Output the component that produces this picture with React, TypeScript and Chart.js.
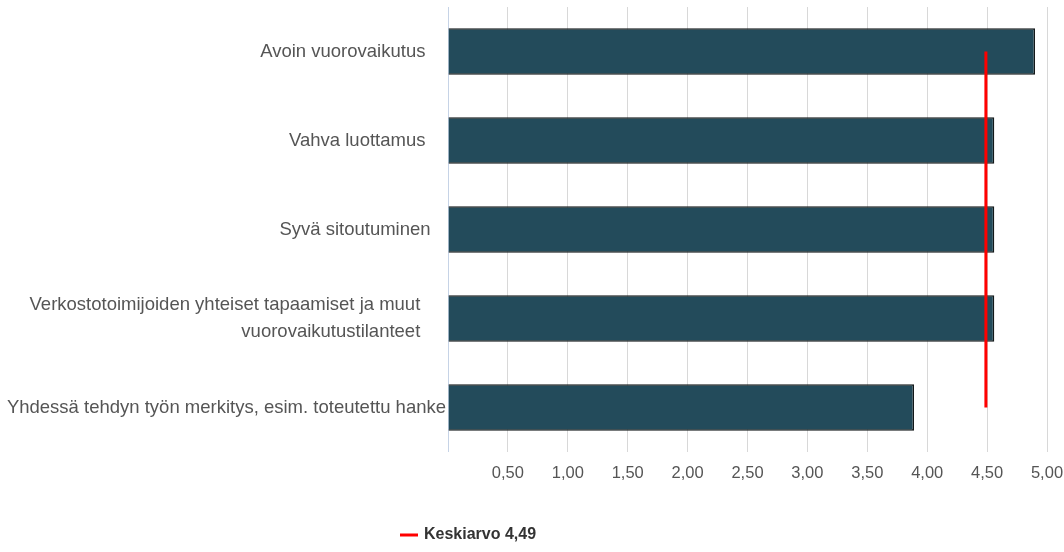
import React, { useEffect, useRef } from "react";
import { Chart, registerables } from "chart.js";

Chart.register(...registerables);

const categories: (string | string[])[] = [
  "Avoin vuorovaikutus    ",
  "Vahva luottamus    ",
  "Syvä sitoutuminen   ",
  ["Verkostotoimijoiden yhteiset tapaamiset ja muut     ", "vuorovaikutustilanteet     "],
  "Yhdessä tehdyn työn merkitys, esim. toteutettu hanke",
];
const barValues: number[] = [4.9, 4.56, 4.56, 4.56, 3.89];
const meanValue = 4.49;
const meanLabel = "Keskiarvo 4,49";
const meanValues: number[] = [meanValue, meanValue, meanValue, meanValue, meanValue];
const xMin = 0;
const xMax = 5;
const xStep = 0.5;

const FONT = '"Liberation Sans", Arial, sans-serif';

const legendPlugin = {
  id: "customLegend",
  afterDraw(chart: any) {
    const ctx = chart.ctx;
    const ds = chart.data.datasets[0];
    ctx.save();
    ctx.strokeStyle = ds.borderColor;
    ctx.lineWidth = 3;
    ctx.beginPath();
    ctx.moveTo(400, 535);
    ctx.lineTo(418, 535);
    ctx.stroke();
    ctx.fillStyle = "#333333";
    ctx.font = `bold 16px ${FONT}`;
    ctx.textBaseline = "middle";
    ctx.textAlign = "left";
    ctx.fillText(ds.label, 424, 535);
    ctx.restore();
  },
};

export default function App() {
  const ref = useRef<HTMLCanvasElement | null>(null);
  useEffect(() => {
    if (!ref.current) return;
    const chart = new Chart(ref.current, {
      type: "bar",
      data: {
        labels: categories as any,
        datasets: [
          {
            type: "line",
            label: meanLabel,
            data: meanValues,
            borderColor: "#ff0000",
            borderWidth: 3,
            pointRadius: 0,
            fill: false,
            order: 0,
          } as any,
          {
            type: "bar",
            label: "Arvo",
            data: barValues,
            backgroundColor: "#234b5b",
            borderColor: "#121819",
            borderWidth: 1.5,
            barPercentage: 0.52,
            categoryPercentage: 1,
            order: 1,
          } as any,
        ],
      },
      options: {
        indexAxis: "y",
        animation: false,
        responsive: false,
        maintainAspectRatio: false,
        layout: { padding: { top: 7, right: 17, left: 0, bottom: 0 } },
        plugins: {
          legend: { display: false },
          tooltip: { enabled: false },
        },
        scales: {
          x: {
            type: "linear",
            min: xMin,
            max: xMax,
            ticks: {
              stepSize: xStep,
              padding: 12,
              color: "#555555",
              font: { family: FONT, size: 16.5 },
              callback: (v: any) => (Number(v) === 0 ? "" : Number(v).toFixed(2).replace(".", ",")),
            },
            grid: {
              drawTicks: false,
              color: (c: any) => (c.tick && c.tick.value === 0 ? "#c6d3e6" : "#d8d8d8"),
              lineWidth: 1,
            },
            border: { display: false },
            afterFit: (s: any) => {
              s.height = 100;
              s.paddingLeft = 0;
              s.paddingRight = 0;
            },
          },
          y: {
            type: "category",
            ticks: {
              padding: 2,
              color: "#555555",
              font: { family: FONT, size: 18.5, lineHeight: 1.5 },
            },
            grid: { display: false, drawTicks: false },
            border: { display: false },
            afterFit: (s: any) => {
              s.width = 448;
              s.paddingTop = 0;
              s.paddingBottom = 0;
            },
          },
        },
      },
      plugins: [legendPlugin],
    });
    return () => chart.destroy();
  }, []);
  return (
    <div style={{ position: "absolute", left: 0, top: 0, width: 1064, height: 552, background: "#ffffff" }}>
      <canvas ref={ref} width={1064} height={552} style={{ width: 1064, height: 552, display: "block" }} />
    </div>
  );
}
